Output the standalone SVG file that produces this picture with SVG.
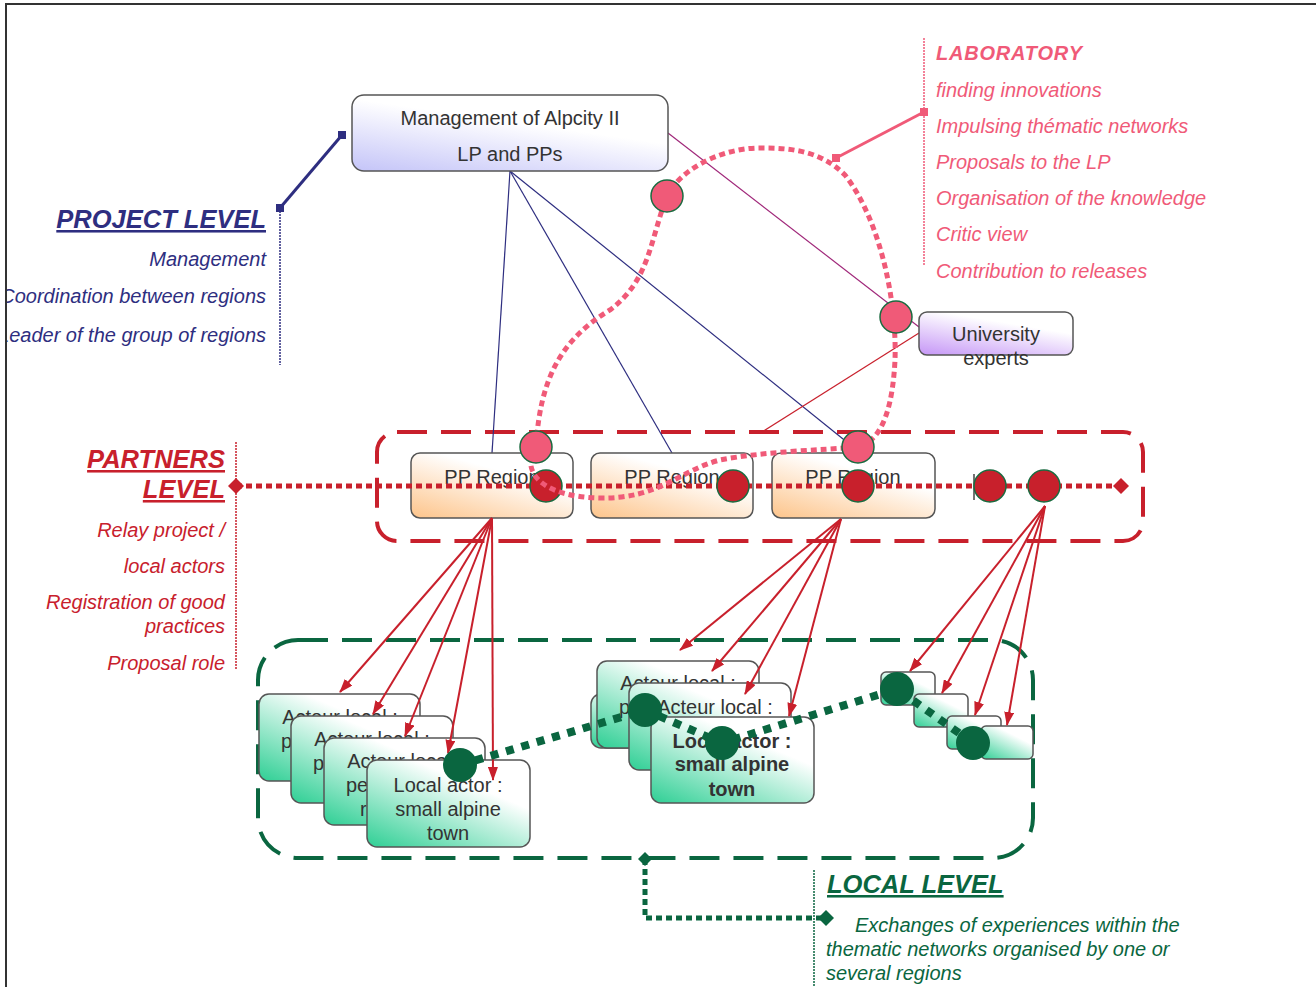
<svg xmlns="http://www.w3.org/2000/svg" width="1316" height="987" viewBox="0 0 1316 987">
<defs>
<linearGradient id="gMan" x1="0" y1="1" x2="0.6" y2="0"><stop offset="0" stop-color="#c4c4f8"/><stop offset="0.7" stop-color="#ffffff"/></linearGradient>
<linearGradient id="gPP" x1="0" y1="1" x2="0.7" y2="0"><stop offset="0" stop-color="#fdc48a"/><stop offset="0.75" stop-color="#ffffff"/></linearGradient>
<linearGradient id="gUni" x1="0" y1="1" x2="0.6" y2="0"><stop offset="0" stop-color="#c596f6"/><stop offset="0.8" stop-color="#ffffff"/></linearGradient>
<linearGradient id="gLoc" x1="0" y1="1" x2="0.8" y2="0"><stop offset="0" stop-color="#2ecf94"/><stop offset="0.75" stop-color="#ffffff"/></linearGradient>
<marker id="arr" markerUnits="userSpaceOnUse" markerWidth="14" markerHeight="10" viewBox="0 0 14 10" refX="13" refY="5" orient="auto"><path d="M0,0 L14,5 L0,10 z" fill="#c8202c"/></marker>
<clipPath id="frame"><rect x="7" y="5" width="1309" height="982"/></clipPath>
</defs>
<style>
.box{stroke:#555;stroke-width:1.5}
.bt{font-family:"Liberation Sans",Arial,sans-serif;font-size:20px;fill:#333;text-anchor:middle}
.bs{font-family:"Liberation Sans",Arial,sans-serif;font-size:20px;fill:#333}
.nav{font-family:"Liberation Sans",Arial,sans-serif;font-style:italic;fill:#2e2e80;font-size:20px;text-anchor:end}
.red{font-family:"Liberation Sans",Arial,sans-serif;font-style:italic;fill:#c8202c;font-size:20px;text-anchor:end}
.pink{font-family:"Liberation Sans",Arial,sans-serif;font-style:italic;fill:#f05a78;font-size:20px}
.grn{font-family:"Liberation Sans",Arial,sans-serif;font-style:italic;fill:#0a6640;font-size:20px}
.head{font-weight:bold;font-size:25.5px;text-decoration:underline}
.pc{fill:#f05a78;stroke:#1a6b40;stroke-width:1.5}
.rc{fill:#c8202c;stroke:#1a6b40;stroke-width:1.5}
.gc{fill:#0a6640}
.ra{stroke:#c8202c;stroke-width:2;fill:none;marker-end:url(#arr)}
.navl{stroke:#2e2e80;stroke-width:1.2;fill:none}
</style>
<rect width="1316" height="987" fill="#fff"/>
<path d="M6,987 V4 H1316" fill="none" stroke="#333" stroke-width="2"/>

<g id="containers">
<rect x="377" y="432" width="766" height="109" rx="20" fill="none" stroke="#c8202c" stroke-width="4" stroke-dasharray="30 14"/>
<rect x="258" y="640" width="775" height="218" rx="40" fill="none" stroke="#0a6640" stroke-width="4" stroke-dasharray="30 14"/>
</g>

<g id="connectors">
<line class="navl" x1="510" y1="171" x2="492" y2="453"/>
<line class="navl" x1="510" y1="171" x2="672" y2="453"/>
<line class="navl" x1="510" y1="171" x2="848" y2="443"/>
<line x1="668" y1="133" x2="919" y2="327" stroke="#a0287a" stroke-width="1.2"/>
<line x1="919" y1="333" x2="762" y2="432" stroke="#c8202c" stroke-width="1.2"/>
<polyline points="342,135 280,208" stroke="#2e2e80" stroke-width="3" fill="none"/>
<rect x="338" y="131" width="8" height="8" fill="#2e2e80"/>
<rect x="276" y="204" width="8" height="8" fill="#2e2e80"/>
<line x1="280" y1="208" x2="280" y2="365" stroke="#2e2e80" stroke-width="1.5" stroke-dasharray="2 1"/>
<line x1="924" y1="112" x2="836" y2="158" stroke="#f05a78" stroke-width="3"/>
<rect x="920" y="108" width="8" height="8" fill="#f05a78"/>
<rect x="832" y="154" width="8" height="8" fill="#f05a78"/>
<line x1="924" y1="38" x2="924" y2="265" stroke="#f05a78" stroke-width="1.5" stroke-dasharray="2 1"/>
<line x1="236" y1="442" x2="236" y2="670" stroke="#c8202c" stroke-width="1.5" stroke-dasharray="2 1"/>
<line x1="814" y1="870" x2="814" y2="987" stroke="#0a6640" stroke-width="1.5" stroke-dasharray="2 1"/>
<polyline points="645,859 645,918 826,918" fill="none" stroke="#0a6640" stroke-width="5" stroke-dasharray="6 4"/>
<path d="M645,852 L652,859 L645,866 L638,859 z" fill="#0a6640"/>
<path d="M826,910 L834,918 L826,926 L818,918 z" fill="#0a6640"/>
</g>

<g id="node-management">
<rect x="352" y="95" width="316" height="76" rx="12" fill="url(#gMan)" class="box"/>
<text class="bt" x="510" y="125">Management of Alpcity II</text>
<text class="bt" x="510" y="161">LP and PPs</text>
</g>

<g id="node-university">
<rect x="919" y="312" width="154" height="43" rx="8" fill="url(#gUni)" class="box"/>
<text class="bt" x="996" y="341">University</text>
<text class="bt" x="996" y="365">experts</text>
</g>

<g id="node-pp1"><rect x="411" y="453" width="162" height="65" rx="9" fill="url(#gPP)" class="box"/><text class="bt" x="492" y="484">PP Region</text></g>
<g id="node-pp2"><rect x="591" y="453" width="162" height="65" rx="9" fill="url(#gPP)" class="box"/><text class="bt" x="672" y="484">PP Region</text></g>
<g id="node-pp3"><rect x="772" y="453" width="163" height="65" rx="9" fill="url(#gPP)" class="box"/><text class="bt" x="853" y="484">PP Region</text></g>
<line x1="974" y1="474" x2="974" y2="500" stroke="#444" stroke-width="1.5"/>

<g id="local-left">
<g id="node-la1"><rect x="259" y="694" width="161" height="87" rx="10" fill="url(#gLoc)" class="box"/><text class="bt" x="340" y="724">Acteur local :</text><text class="bs" x="281" y="748">p</text></g>
<g id="node-la2"><rect x="291" y="716" width="162" height="87" rx="10" fill="url(#gLoc)" class="box"/><text class="bt" x="372" y="746">Acteur local :</text><text class="bs" x="313" y="770">p</text></g>
<g id="node-la3"><rect x="324" y="738" width="161" height="87" rx="10" fill="url(#gLoc)" class="box"/><text class="bt" x="405" y="768">Acteur local :</text><text class="bs" x="346" y="792">pe</text><text class="bs" x="360" y="816">r</text></g>
<g id="node-la4"><rect x="367" y="760" width="163" height="87" rx="10" fill="url(#gLoc)" class="box"/><text class="bt" x="448" y="792">Local actor :</text><text class="bt" x="448" y="816">small alpine</text><text class="bt" x="448" y="840">town</text></g>
</g>

<g id="local-mid">
<g id="node-lm0"><rect x="591" y="694" width="150" height="54" rx="10" fill="url(#gLoc)" class="box"/></g>
<g id="node-lm1"><rect x="597" y="661" width="162" height="87" rx="10" fill="url(#gLoc)" class="box"/><text class="bt" x="678" y="690">Acteur local :</text><text class="bs" x="619" y="714">p</text></g>
<g id="node-lm2"><rect x="629" y="683" width="162" height="87" rx="10" fill="url(#gLoc)" class="box"/><text class="bt" x="715" y="714">Acteur local :</text></g>
<g id="node-lm3"><rect x="651" y="717" width="163" height="86" rx="10" fill="url(#gLoc)" class="box"/><text class="bt" x="732" y="748" font-weight="bold">Local actor :</text><text class="bt" x="732" y="771" font-weight="bold">small alpine</text><text class="bt" x="732" y="796" font-weight="bold">town</text></g>
</g>

<g id="local-right">
<g id="node-lr1"><rect x="881" y="672" width="54" height="33" rx="5" fill="url(#gLoc)" class="box"/></g>
<g id="node-lr2"><rect x="914" y="694" width="54" height="33" rx="5" fill="url(#gLoc)" class="box"/></g>
<g id="node-lr3"><rect x="947" y="716" width="54" height="33" rx="5" fill="url(#gLoc)" class="box"/></g>
<g id="node-lr4"><rect x="981" y="726" width="52" height="33" rx="5" fill="url(#gLoc)" class="box"/></g>
</g>

<g id="arrows">
<line class="ra" x1="492" y1="518" x2="340" y2="692"/>
<line class="ra" x1="492" y1="518" x2="373" y2="714"/>
<line class="ra" x1="492" y1="518" x2="405" y2="736"/>
<line class="ra" x1="492" y1="518" x2="448" y2="753"/>
<line class="ra" x1="492" y1="518" x2="493" y2="780"/>
<line class="ra" x1="841" y1="519" x2="680" y2="650"/>
<line class="ra" x1="841" y1="519" x2="712" y2="671"/>
<line class="ra" x1="841" y1="519" x2="745" y2="694"/>
<line class="ra" x1="841" y1="519" x2="789" y2="716"/>
<line class="ra" x1="1045" y1="506" x2="910" y2="671"/>
<line class="ra" x1="1045" y1="506" x2="942" y2="693"/>
<line class="ra" x1="1045" y1="506" x2="975" y2="715"/>
<line class="ra" x1="1045" y1="506" x2="1007" y2="725"/>
</g>

<g id="partners-line">
<line x1="236" y1="486" x2="1121" y2="486" stroke="#c8202c" stroke-width="5" stroke-dasharray="6 4"/>
<path d="M236,478 L244,486 L236,494 L228,486 z" fill="#c8202c"/>
<path d="M1121,478 L1129,486 L1121,494 L1113,486 z" fill="#c8202c"/>
<circle class="rc" cx="546" cy="486" r="16"/>
<circle class="rc" cx="733" cy="486" r="16"/>
<circle class="rc" cx="858" cy="486" r="16"/>
<circle class="rc" cx="990" cy="486" r="16"/>
<circle class="rc" cx="1044" cy="486" r="16"/>
</g>

<g id="lab-loop">
<path d="M536,447 C520,470 540,497 600,498 C660,499 680,470 720,460 C760,452 820,450 858,447 C885,440 893,400 895,360 C897,300 880,220 845,175 C820,150 790,148 760,148 C720,148 680,170 667,196 C650,240 650,280 610,310 C560,340 540,380 536,447 Z" fill="none" stroke="#f05a78" stroke-width="5" stroke-dasharray="6 4"/>
<circle class="pc" cx="667" cy="196" r="16"/>
<circle class="pc" cx="896" cy="317" r="16"/>
<circle class="pc" cx="536" cy="447" r="16"/>
<circle class="pc" cx="858" cy="447" r="16"/>
</g>

<g id="local-network">
<polyline points="460,765 645,710 722,743 897,689 973,743" fill="none" stroke="#0a6640" stroke-width="8" stroke-dasharray="8 8"/>
<circle class="gc" cx="460" cy="765" r="17"/>
<circle class="gc" cx="645" cy="710" r="17"/>
<circle class="gc" cx="722" cy="743" r="17"/>
<circle class="gc" cx="897" cy="689" r="17"/>
<circle class="gc" cx="973" cy="743" r="17"/>
</g>

<g id="project-level" clip-path="url(#frame)">
<text class="nav head" x="266" y="228">PROJECT LEVEL</text>
<text class="nav" x="266" y="266">Management</text>
<text class="nav" x="266" y="303">Coordination between regions</text>
<text class="nav" x="266" y="342">Leader of the group of regions</text>
</g>

<g id="laboratory">
<text class="pink" x="936" y="60" font-weight="bold" font-size="25" letter-spacing="0.8">LABORATORY</text>
<text class="pink" x="936" y="97">finding innovations</text>
<text class="pink" x="936" y="133">Impulsing thématic networks</text>
<text class="pink" x="936" y="169">Proposals to the LP</text>
<text class="pink" x="936" y="205">Organisation of the knowledge</text>
<text class="pink" x="936" y="241">Critic view</text>
<text class="pink" x="936" y="278">Contribution to releases</text>
</g>

<g id="partners-level">
<text class="red head" x="225" y="468">PARTNERS</text>
<text class="red head" x="225" y="498">LEVEL</text>
<text class="red" x="225" y="537">Relay project /</text>
<text class="red" x="225" y="573">local actors</text>
<text class="red" x="225" y="609">Registration of good</text>
<text class="red" x="225" y="633">practices</text>
<text class="red" x="225" y="670">Proposal role</text>
</g>

<g id="local-level">
<text class="grn head" x="827" y="893">LOCAL LEVEL</text>
<text class="grn" x="855" y="932">Exchanges of experiences within the</text>
<text class="grn" x="826" y="956">thematic networks organised by one or</text>
<text class="grn" x="826" y="980">several regions</text>
</g>
</svg>
